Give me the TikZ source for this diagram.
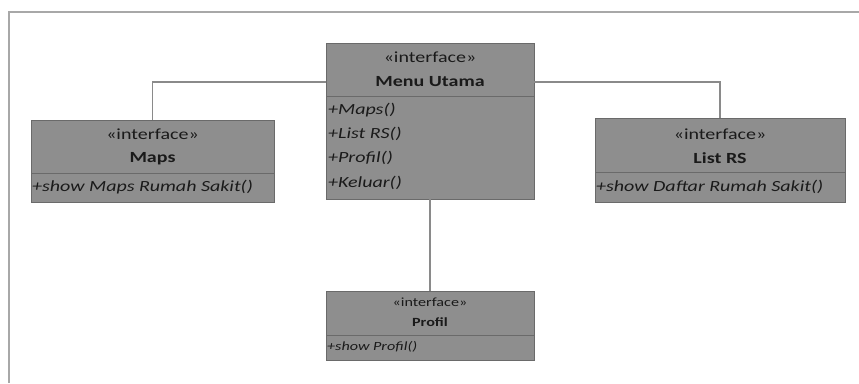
\documentclass[tikz,border=0pt]{standalone}
\usepackage{fontspec}
\setmainfont{Carlito}[FakeStretch=1.29]
\definecolor{boxfill}{HTML}{8E8E8E}
\definecolor{boxline}{HTML}{6A6A6A}
\definecolor{wire}{HTML}{8A8A8A}
\definecolor{frameline}{HTML}{A8A8A8}
\definecolor{ink}{HTML}{1A1A1A}
\begin{document}
\begin{tikzpicture}[x=1pt,y=-1pt,
  iface/.style={draw=boxline, fill=boxfill, line width=0.9pt, anchor=north west,
    inner sep=0pt, outer sep=0pt},
  divider/.style={draw=boxline, line width=0.9pt},
  stereo/.style={inner sep=0pt, text=ink, font=\fontsize{15.5}{18}\selectfont},
  title/.style={inner sep=0pt, text=ink, font=\fontsize{15.5}{18}\selectfont\bfseries},
  op/.style={inner sep=0pt, anchor=west, text=ink, font=\fontsize{15.5}{18}\selectfont\itshape},
  smallstereo/.style={stereo, font=\fontsize{12.5}{15}\selectfont},
  smalltitle/.style={title, font=\fontsize{12.5}{15}\selectfont\bfseries},
  smallop/.style={op, font=\fontsize{12.5}{15}\selectfont\itshape},
  wire/.style={draw=wire, line width=1.4pt},
  frame/.style={draw=frameline, line width=1.4pt}
]
\useasboundingbox (0,0) rectangle (859,383);
\fill[white] (0,0) rectangle (859,383);

% surrounding frame (open to the right and bottom)
\draw[frame] (9,383) -- (9,12) -- (859,12);

% Menu Utama
\node[iface, minimum width=208pt, minimum height=156pt] (menu) at (326,43) {};
\draw[divider] (326,96) -- (534,96);
\node[stereo] (menust) at (430,57) {«interface»};
\node[title] (menutitle) at (430,82) {Menu Utama};
\node[op] (menuop1) at (328,110) {+Maps()};
\node[op] (menuop2) at (328,134) {+List RS()};
\node[op] (menuop3) at (328,158) {+Profil()};
\node[op] (menuop4) at (328,183) {+Keluar()};

% Maps
\node[iface, minimum width=243pt, minimum height=82pt] (maps) at (31,120) {};
\draw[divider] (31,173) -- (274,173);
\node[stereo] (mapsst) at (maps.north |- 0,134) {«interface»};
\node[title] (mapstitle) at (maps.north |- 0,159) {Maps};
\node[op] (mapsop) at (32,187) {+show Maps Rumah Sakit()};

% List RS
\node[iface, minimum width=250pt, minimum height=84pt] (list) at (595,118) {};
\draw[divider] (595,172) -- (845,172);
\node[stereo] (listst) at (list.north |- 0,134) {«interface»};
\node[title] (listtitle) at (list.north |- 0,158) {List RS};
\node[op] (listop) at (596,187) {+show Daftar Rumah Sakit()};

% Profil
\node[iface, minimum width=208pt, minimum height=69pt] (profil) at (326,291) {};
\draw[divider] (326,335) -- (534,335);
\node[smallstereo] (profst) at (profil.north |- 0,302) {«interface»};
\node[smalltitle] (proftitle) at (profil.north |- 0,322) {Profil};
\node[smallop] (profop) at (327,347) {+show Profil()};

% connectors
\draw[wire] (menutitle -| menu.west) -| (maps.north);
\draw[wire] (menutitle -| menu.east) -| (list.north);
\draw[wire] (menu.south) -- (profil.north);
\end{tikzpicture}
\end{document}
